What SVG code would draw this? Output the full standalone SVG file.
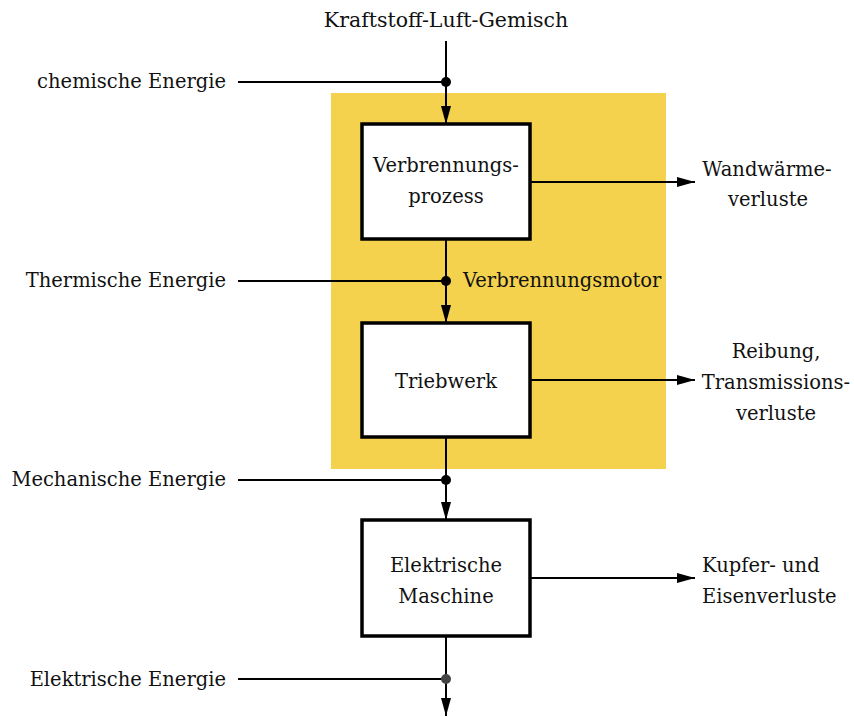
<svg xmlns="http://www.w3.org/2000/svg" width="854" height="717" viewBox="0 0 854 717">
<defs>
<marker id="ah" viewBox="0 0 18 10" refX="18" refY="5" markerWidth="18" markerHeight="10" markerUnits="userSpaceOnUse" orient="auto">
<path d="M0,0 L18,5 L0,10 Z" fill="#000"/>
</marker>
</defs>
<style>
.t{font-family:'DejaVu Serif',serif;font-size:19.5px;fill:#111}
.c{text-anchor:middle}
.r{text-anchor:end}
.box{fill:#fff;stroke:#000;stroke-width:3.5}
.ln{stroke:#000;stroke-width:2;fill:none}
.ar{stroke:#000;stroke-width:2;fill:none;marker-end:url(#ah)}
</style>
<rect x="331" y="93" width="335" height="376" fill="#F4D24E"/>
<g id="connectors">
<line class="ar" x1="446" y1="41" x2="446" y2="124"/>
<line class="ln" x1="238" y1="82" x2="446" y2="82"/>
<circle cx="446" cy="82" r="5" fill="#000"/>
<line class="ar" x1="446" y1="239" x2="446" y2="323"/>
<line class="ln" x1="238" y1="281" x2="446" y2="281"/>
<circle cx="446" cy="281" r="5" fill="#000"/>
<line class="ar" x1="446" y1="437" x2="446" y2="520"/>
<line class="ln" x1="238" y1="480" x2="446" y2="480"/>
<circle cx="446" cy="480" r="5" fill="#000"/>
<line class="ar" x1="446" y1="636" x2="446" y2="716"/>
<line class="ln" x1="238" y1="679" x2="446" y2="679"/>
<circle cx="446" cy="679" r="5" fill="#444"/>
<line class="ar" x1="530" y1="182" x2="695" y2="182"/>
<line class="ar" x1="530" y1="380" x2="695" y2="380"/>
<line class="ar" x1="530" y1="578" x2="695" y2="578"/>
</g>
<g id="verbrennungsprozess">
<rect class="box" x="362" y="124" width="168" height="115"/>
<text class="t c" x="446" y="172">Verbrennungs-</text>
<text class="t c" x="446" y="203">prozess</text>
</g>
<g id="triebwerk">
<rect class="box" x="362" y="323" width="168" height="114"/>
<text class="t c" x="446" y="388">Triebwerk</text>
</g>
<g id="maschine">
<rect class="box" x="362" y="520" width="168" height="116"/>
<text class="t c" x="446" y="572">Elektrische</text>
<text class="t c" x="446" y="603">Maschine</text>
</g>
<g id="labels">
<text class="t c" x="446" y="27" style="font-size:20.5px">Kraftstoff-Luft-Gemisch</text>
<text class="t r" x="226" y="88">chemische Energie</text>
<text class="t r" x="226" y="287">Thermische Energie</text>
<text class="t r" x="226" y="486">Mechanische Energie</text>
<text class="t r" x="226" y="686">Elektrische Energie</text>
<text class="t" x="463" y="287">Verbrennungsmotor</text>
<text class="t c" x="767" y="176">Wandwärme-</text>
<text class="t c" x="768" y="206">verluste</text>
<text class="t c" x="776" y="358">Reibung,</text>
<text class="t c" x="776" y="389">Transmissions-</text>
<text class="t c" x="776" y="420">verluste</text>
<text class="t" x="702" y="572">Kupfer- und</text>
<text class="t" x="702" y="603">Eisenverluste</text>
</g>
</svg>
